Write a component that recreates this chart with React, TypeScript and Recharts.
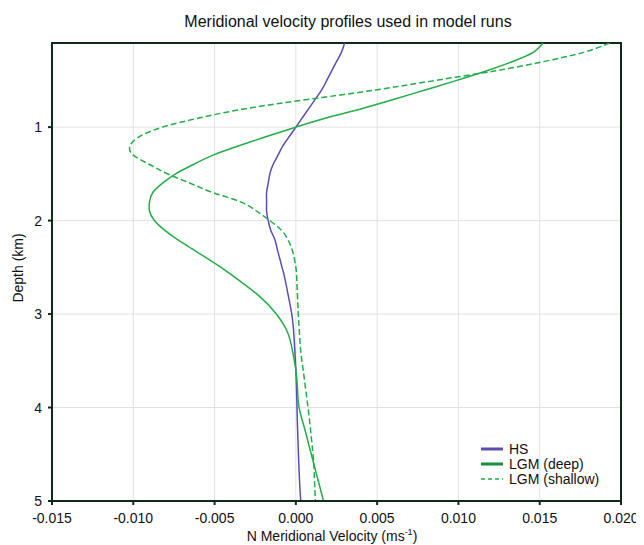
import { LineChart, Line, XAxis, YAxis, CartesianGrid, ReferenceArea } from 'recharts';

// depth (km) down the profile
const depths = [
  0.1, 0.2, 0.3, 0.4, 0.5, 0.6, 0.7, 0.8, 0.9, 1.0,
  1.1, 1.2, 1.3, 1.4, 1.5, 1.6, 1.7, 1.8, 1.9, 2.0,
  2.1, 2.2, 2.3, 2.4, 2.5, 2.6, 2.8, 3.0, 3.2, 3.4,
  3.6, 3.8, 4.0, 4.2, 4.4, 4.6, 4.8, 5.0,
];

const hs = [
  0.003, 0.0028, 0.0025, 0.0022, 0.0019, 0.0016, 0.0012, 0.0008, 0.0004, 0.0,
  -0.0004, -0.0008, -0.0011, -0.0014, -0.0016, -0.0017, -0.0018, -0.0018, -0.0018, -0.0017,
  -0.00155, -0.0013, -0.00115, -0.001, -0.00085, -0.0007, -0.00047, -0.00025, -0.00013, -0.00006,
  0.0, 0.00004, 0.00007, 0.0001, 0.00014, 0.00018, 0.00023, 0.0003,
];

const lgmDeep = [
  0.0152, 0.0146, 0.0133, 0.0117, 0.0099, 0.008, 0.0061, 0.0041, 0.0019, 0.0,
  -0.0018, -0.0035, -0.0051, -0.0063, -0.0074, -0.0082, -0.0088, -0.009, -0.009, -0.0087,
  -0.0081, -0.0073, -0.0064, -0.0055, -0.0046, -0.0038, -0.0023, -0.0012, -0.0005, -0.0002,
  0.0, 0.0001, 0.0002, 0.0005, 0.0008, 0.0011, 0.0014, 0.0017,
];

const lgmShallow = [
  0.0193, 0.0177, 0.0152, 0.0122, 0.0086, 0.005, 0.0009, -0.003, -0.0059, -0.0082,
  -0.0096, -0.0102, -0.01, -0.009, -0.0079, -0.0065, -0.0051, -0.0034, -0.0024, -0.0016,
  -0.0009, -0.0005, -0.00025, -0.0001, 0.0, 0.00005, 0.0001, 0.00015, 0.00022, 0.0003,
  0.00045, 0.0006, 0.00075, 0.00088, 0.001, 0.0011, 0.00115, 0.0012,
];

const xTicks = [-0.015, -0.01, -0.005, 0, 0.005, 0.01, 0.015, 0.02];
const yTicks = [1, 2, 3, 4, 5];

const data = depths.map((d, i) => ({
  depth: d,
  hs: hs[i],
  deep: lgmDeep[i],
  shallow: lgmShallow[i],
}));

const FONT = '"Liberation Sans", Arial, sans-serif';
const FRAME = '#0f2a17';
const PURPLE = '#5b4db3';
const GREEN = '#22ad48';

const legendItems = [
  { label: 'HS', color: PURPLE, dash: false, width: 3 },
  { label: 'LGM (deep)', color: '#17903a', dash: false, width: 3 },
  { label: 'LGM (shallow)', color: GREEN, dash: true, width: 1.5 },
];

export default function App() {
  return (
    <div style={{ position: 'relative', width: 636, height: 537, fontFamily: FONT, color: '#111' }}>
      <div style={{ position: 'absolute', left: 0, width: 680, top: 5, textAlign: 'center', fontSize: 16 }}>
        Meridional velocity profiles used in model runs
      </div>
      <LineChart
        width={636}
        height={537}
        data={data}
        layout="vertical"
        margin={{ top: 35, right: 23, bottom: 14, left: 14 }}
      >
        <CartesianGrid stroke="#e2e2e2" strokeWidth={1} />
        <XAxis
          type="number"
          dataKey="hs"
          domain={[-0.015, 0.02]}
          ticks={xTicks}
          tickFormatter={(v: number) => v.toFixed(3)}
          axisLine={{ stroke: FRAME, strokeWidth: 2 }}
          tickLine={{ stroke: FRAME, strokeWidth: 2 }}
          tickSize={4}
          tickMargin={8}
          height={30}
          tick={{ fill: '#111', fontSize: 14, fontFamily: FONT }}
          allowDataOverflow
        />
        <YAxis
          type="number"
          dataKey="depth"
          domain={[0.1, 5]}
          ticks={yTicks}
          axisLine={{ stroke: FRAME, strokeWidth: 2 }}
          tickLine={{ stroke: FRAME, strokeWidth: 2 }}
          tickSize={4}
          tickMargin={6}
          width={30}
          tick={{ fill: '#111', fontSize: 14, fontFamily: FONT }}
          allowDataOverflow
        />
        <ReferenceArea
          x1={-0.015}
          x2={0.02}
          y1={0.1}
          y2={5}
          fill="none"
          stroke={FRAME}
          strokeWidth={2}
          ifOverflow="visible"
        />
        <Line
          dataKey="hs"
          type="natural"
          stroke={PURPLE}
          strokeWidth={1.5}
          dot={false}
          isAnimationActive={false}
        />
        <Line
          dataKey="deep"
          type="natural"
          stroke={GREEN}
          strokeWidth={1.5}
          dot={false}
          isAnimationActive={false}
        />
        <Line
          dataKey="shallow"
          type="natural"
          stroke={GREEN}
          strokeWidth={1.5}
          strokeDasharray="6 3"
          dot={false}
          isAnimationActive={false}
        />
      </LineChart>
      <div
        style={{
          position: 'absolute',
          left: 0,
          top: 519,
          width: 648,
          textAlign: 'center',
          fontSize: 14,
        }}
      >
        N Meridional Velocity (ms<sup style={{ fontSize: 9 }}>-1</sup>)
      </div>
      <div
        style={{
          position: 'absolute',
          left: 10,
          top: 260,
          transform: 'translate(-50%, -50%) rotate(-90deg)',
          fontSize: 14,
          whiteSpace: 'nowrap',
        }}
      >
        Depth (km)
      </div>
      <div style={{ position: 'absolute', left: 473, top: 433 }}>
        {legendItems.map((it) => (
          <div key={it.label} style={{ display: 'flex', alignItems: 'center', height: 15, fontSize: 14 }}>
            <svg width={28} height={15}>
              <line
                x1={0}
                x2={22}
                y1={8}
                y2={8}
                stroke={it.color}
                strokeWidth={it.width}
                strokeDasharray={it.dash ? '4 3' : undefined}
              />
            </svg>
            <span>{it.label}</span>
          </div>
        ))}
      </div>
    </div>
  );
}
